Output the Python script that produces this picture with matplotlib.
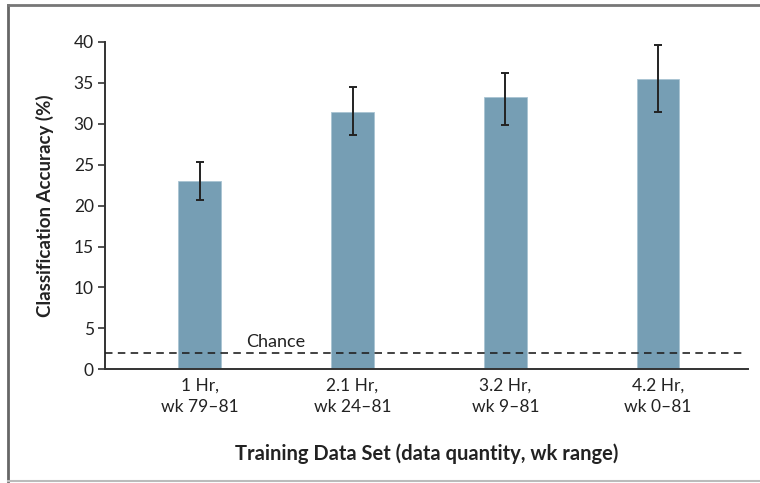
import matplotlib
matplotlib.use("Agg")
import matplotlib.pyplot as plt
from matplotlib.lines import Line2D

categories = ["1 Hr,\nwk 79\u201381", "2.1 Hr,\nwk 24\u201381", "3.2 Hr,\nwk 9\u201381", "4.2 Hr,\nwk 0\u201381"]
accuracy = [23.0, 31.4, 33.3, 35.5]
err_low = [20.7, 28.6, 29.9, 31.4]
err_high = [25.3, 34.5, 36.2, 39.6]
chance = 2.0
yticks = [0, 5, 10, 15, 20, 25, 30, 35, 40]

plt.rcParams['font.family'] = ['Lato', 'DejaVu Sans']

fig = plt.figure(figsize=(7.6, 4.83), dpi=100)
ax = fig.add_axes([105/760, 1-369.3/483, (748-105)/760, (369.3-42)/483])

x = list(range(len(categories)))
lower = [a - l for a, l in zip(accuracy, err_low)]
upper = [h - a for a, h in zip(accuracy, err_high)]
ax.bar(x, accuracy, width=0.278, color="#769eb4", edgecolor="#a9c4d3", linewidth=0.6, zorder=2)
ax.errorbar(x, accuracy, yerr=[lower, upper], fmt="none", ecolor="#222222",
            elinewidth=1.4, capsize=3, capthick=1.4, zorder=3)

ax.axhline(chance, xmin=0, xmax=0.992, color="#222222", linestyle=(0, (4.5, 3.2)), linewidth=1.2, zorder=4)
ax.text(0.5, chance + 0.3, "Chance", ha="center", va="bottom", fontsize=13, color="#222222")

ax.set_xlim(-0.62, 3.588)
ax.set_ylim(0, 40)
ax.set_yticks(yticks)
ax.set_xticks(x)
ax.set_xticklabels(categories, fontsize=12.5, color="#222222", linespacing=1.45)
ax.tick_params(axis="x", length=0, pad=6)
ax.tick_params(axis="y", length=5, width=1.2, color="#333333", labelsize=12.5, labelcolor="#222222", pad=3)

for s in ["top", "right"]:
    ax.spines[s].set_visible(False)
for s in ["left", "bottom"]:
    ax.spines[s].set_color("#333333")
    ax.spines[s].set_linewidth(1.4)

ax.set_ylabel("Classification Accuracy (%)", fontsize=13.5, fontweight="bold", color="#222222", labelpad=14)
ax.set_xlabel("Training Data Set (data quantity, wk range)", fontsize=14.5, fontweight="bold", color="#222222", labelpad=20)

# figure frame
fig.add_artist(Line2D([8/760, 8/760], [1-5/483, 1-481/483], transform=fig.transFigure, color="#666666", linewidth=2.0))
fig.add_artist(Line2D([8/760, 1.0], [1-5/483, 1-5/483], transform=fig.transFigure, color="#777777", linewidth=2.0))
fig.add_artist(Line2D([8/760, 1.0], [1-481/483, 1-481/483], transform=fig.transFigure, color="#bbbbbb", linewidth=1.5))

fig.savefig("out.png", dpi=100)
